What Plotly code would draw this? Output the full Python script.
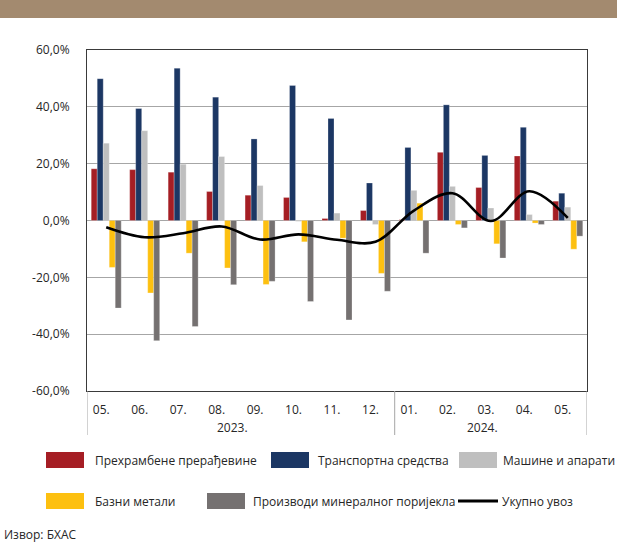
import plotly.graph_objects as go

years = ["2023.", "2024."]
year_counts = [8, 5]
months = ["05.", "06.", "07.", "08.", "09.", "10.", "11.", "12.", "01.", "02.", "03.", "04.", "05."]

food = [18.2, 17.9, 17.0, 10.2, 8.9, 8.1, 0.7, 3.5, 0.3, 24.0, 11.6, 22.7, 6.8]
transport = [49.9, 39.4, 53.6, 43.4, 28.7, 47.5, 35.9, 13.2, 25.7, 40.7, 22.9, 32.8, 9.6]
machines = [27.2, 31.6, 19.8, 22.5, 12.3, -0.3, 2.6, -1.4, 10.6, 12.0, 4.4, 2.1, 4.7]
metals = [-16.5, -25.5, -11.5, -16.7, -22.5, -7.5, -6.2, -18.6, 6.1, -1.4, -8.2, -0.9, -10.1]
mineral = [-30.8, -42.3, -37.3, -22.6, -21.4, -28.5, -35.0, -24.9, -11.5, -2.6, -13.2, -1.4, -5.5]
total = [-2.4, -5.9, -4.5, -2.1, -6.7, -4.9, -6.8, -7.5, 3.5, 9.6, -0.2, 10.3, 0.9]

y_tickvals = [60, 40, 20, 0, -20, -40, -60]
y_ticktext = ["60,0%", "40,0%", "20,0%", "0,0%", "-20,0%", "-40,0%", "-60,0%"]

names = ["Прехрамбене прерађевине", "Транспортна средства", "Машине и апарати",
         "Базни метали", "Производи минералног поријекла", "Укупно увоз"]
colors = ["#A51E24", "#1C3764", "#BFBFBF", "#FDC010", "#757171", "#000000"]
source = "Извор: БХАС"

FONT = "Open Sans"
TXT = "#262626"

W, H = 617, 544
ML, MR, MT, MB = 87, 30, 50, 153
PW, PH = W - ML - MR, H - MT - MB

def px(x):
    return (x - ML) / PW

def py(y):
    return (H - MB - y) / PH

xs = list(range(len(months)))
fig = go.Figure()
for vals, name, col in zip([food, transport, machines, metals, mineral], names[:5], colors[:5]):
    fig.add_trace(go.Bar(x=xs, y=vals, name=name,
                         marker=dict(color=col, line=dict(color="rgba(255,255,255,0.5)", width=0.5)),
                         showlegend=False))
fig.add_trace(go.Scatter(x=xs, y=total, name=names[5], mode="lines",
                         line=dict(color="#000000", width=2.6, shape="spline", smoothing=1.0),
                         showlegend=False))

shapes = []
annotations = []
# top band
shapes.append(dict(type="rect", xref="paper", yref="paper", x0=px(0), x1=px(W), y0=py(18), y1=py(0),
                   fillcolor="#A38A6F", line=dict(width=0), layer="above"))

# year groups: dividers and labels
start = 0
bounds = [-0.5]
for yr, cnt in zip(years, year_counts):
    end = start + cnt
    bounds.append(end - 0.5)
    annotations.append(dict(xref="x", yref="paper", x=(start + end - 1) / 2, y=py(428), text=yr,
                            showarrow=False, xanchor="center", yanchor="middle", xshift=-8,
                            font=dict(family=FONT, size=12, color=TXT)))
    start = end
for b in bounds:
    shapes.append(dict(type="line", xref="x", yref="paper", x0=b, x1=b, y0=py(H - MB), y1=py(435),
                       line=dict(color="#A6A6A6", width=1)))

# manual legend
legend_items = [
    (0, 46, 452, 93), (1, 271, 452, 316), (2, 459, 452, 501),
    (3, 46, 493, 93), (4, 207, 493, 251),
]
for idx, sx, sy, tx in legend_items:
    shapes.append(dict(type="rect", xref="paper", yref="paper", x0=px(sx), x1=px(sx + 38),
                       y0=py(sy + 16), y1=py(sy), fillcolor=colors[idx], line=dict(width=0)))
    annotations.append(dict(xref="paper", yref="paper", x=px(tx), y=py(sy + 8), text=names[idx],
                            showarrow=False, xanchor="left", yanchor="middle",
                            font=dict(family=FONT, size=12, color=TXT)))
shapes.append(dict(type="line", xref="paper", yref="paper", x0=px(458), x1=px(498), y0=py(501), y1=py(501),
                   line=dict(color="#000000", width=3)))
annotations.append(dict(xref="paper", yref="paper", x=px(500), y=py(501), text=names[5],
                        showarrow=False, xanchor="left", yanchor="middle",
                        font=dict(family=FONT, size=12, color=TXT)))
annotations.append(dict(xref="paper", yref="paper", x=px(2), y=py(534), text=source,
                        showarrow=False, xanchor="left", yanchor="middle",
                        font=dict(family=FONT, size=12, color=TXT)))

fig.update_layout(
    width=W, height=H,
    margin=dict(l=ML, r=MR, t=MT, b=MB),
    paper_bgcolor="white", plot_bgcolor="white",
    barmode="group", bargap=0.22, bargroupgap=0,
    font=dict(family=FONT, size=12, color=TXT),
    shapes=shapes, annotations=annotations,
    showlegend=False,
)
fig.update_xaxes(
    range=[-0.5, len(months) - 0.5], tickvals=xs, ticktext=months,
    showline=True, linecolor="#3A3A3A", linewidth=1, mirror=True,
    showgrid=False, zeroline=False, ticks="", ticklabelstandoff=8, ticklabelshift=-5,
    tickfont=dict(family=FONT, size=12, color=TXT),
)
fig.update_yaxes(
    range=[-60, 60], tickvals=y_tickvals, ticktext=y_ticktext,
    showline=True, linecolor="#3A3A3A", linewidth=1, mirror=True,
    showgrid=True, gridcolor="#A6A6A6", gridwidth=1,
    zeroline=True, zerolinecolor="#A6A6A6", zerolinewidth=1,
    ticks="", ticklabelstandoff=14,
    tickfont=dict(family=FONT, size=12, color=TXT),
)

fig.write_html("out.html", config={"displayModeBar": False},
               post_script="document.body.style.margin='0';document.body.style.overflow='hidden';")
